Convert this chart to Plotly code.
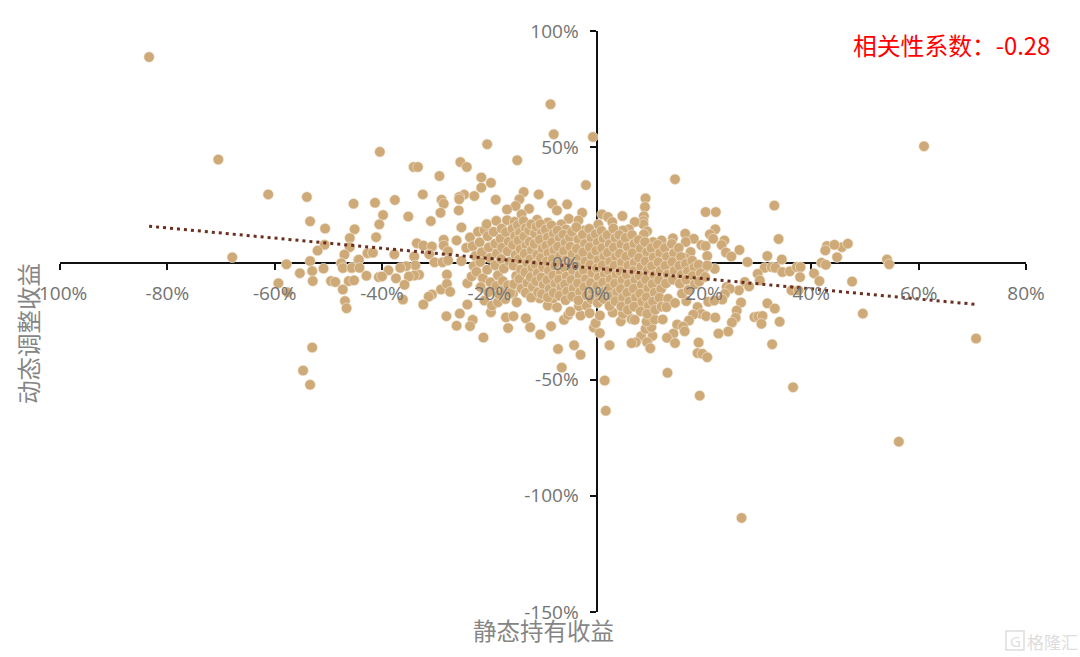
import plotly.graph_objects as go

# (static holding return %, dynamic adjusted return %)
outer_points = [
 (-83.4,88.8),(-70.5,44.7),(-67.9,2.6),(-61.2,29.7),(-54,28.6),(-45.3,25.7),(-53.4,18.1),(-50.6,15),(-45.1,14.7),
 (-46,10.9),(-50.7,8),(-46,7),(-52,5.5),(-47,3.8),(-57.8,-0.4),(-53.4,1),(-47.6,0.1),(-50.9,-2.2),(-53,-3.3),
 (-55.3,-4.2),(-45.7,-2),(-47.3,-2),(-44.4,1.6),(-52.9,-7.6),(-49.5,-7.6),(-48.7,-8),(-46.2,-7.6),(-45.2,-7.3),
 (-59.3,-8.5),(-57.6,-12.4),(-47.3,-11.2),(-46.9,-16.2),(-46.6,-19.3),(-53,-36.2),(-54.7,-46.1),(-53.4,-52.2),
 (-40.4,48),(-34.1,41.5),(-33.3,41.5),(-25.4,43.6),(-24.2,41.5),(-20.4,51.3),(-14.8,44.4),(-8,55.6),(-8.6,68.5),
 (-0.7,54.4),(-29.3,37.6),(-21.5,37),(-19.7,34.7),(-21.5,32.6),(-2,33.7),(-32.4,29.7),(-13.6,30.7),(-10.8,29.7),
 (-24.7,29.6),(-25.6,28.6),(-22.8,29),(-14.4,27.6),(-41.3,26.1),(-37.6,27.3),(-28.9,27.4),(-28.5,25.7),(-25.6,27.6),
 (-18.8,27.4),(-15.1,24.7),(-8.3,25.7),(-5.5,25.4),(-16.7,23.2),(-25.7,22.8),(-29.1,21.8),(-12.6,23.5),(-7.4,22.8),
 (-2.7,21.8),(-39.8,20.8),(-35.1,20.2),(-14,21.1),(-40.5,16.8),(-30.9,18.2),(-11.1,18.8),(-9.1,17.6),(-5.2,19.2),
 (-6.6,16.8),(-3.4,18.5),(-25.2,15.5),(-5.7,14.6),(-2.4,14.2),(-41.1,11.3),(-28.5,10.2),(-26.1,9.9),(-33.5,8.7),
 (-32.3,7.7),(-30.7,7.3),(-28.5,7.7),(-24.3,6.7),(-42.7,4.4),(-41.7,4.6),(-37.7,3.9),(-34,3),(-31.2,3.9),(-27.7,5.2),
 (-44.3,1.6),(-30.2,0.5),(-28.7,0.5),(-27.7,1.3),(-25.2,1),(-33.8,-0.9),(-35.5,-1.2),(-36.6,-1.9),(-38.8,-3),
 (-40.6,-5.9),(-40,-5.6),(-42.9,-5.3),(-45.6,-1.9),(-44.2,-1.9),(-33.1,-4.9),(-34,-5.2),(-35,-5.6),(-37.4,-6.4),
 (-27.9,-4.8),(-35.8,-9.2),(-29,-11.2),(-27.9,-8.8),(-27.3,-12.2),(-24.1,-8.5),(-23.3,-5.6),(-36.1,-15.5),
 (-30.7,-13.4),(-31.3,-14.3),(-32.3,-17.7),(-28,-22.7),(-25.5,-21.6),(-26.1,-26.8),(-24.1,-17.7),(-23.1,-24.3),
 (-23.6,-27),(-20.9,-16),(-19.7,-21),(-19.5,-18.1),(-18.4,-16.7),(-17,-15.3),(-15.6,-13.1),(-14.9,-16.7),
 (-16.9,-23.2),(-15.5,-22.7),(-13.2,-23.6),(-16.5,-27.8),(-12.4,-27.5),(-10.5,-30.6),(-8.5,-27),(-21.1,-31.9),
 (-7.2,-36.8),(-4.2,-35.2),(-3,-39.3),(-6.1,-24.3),(-5.3,-22.2),(-4.9,-20.7),(-3,-22.4),(-3.3,-18.4),(-1.9,-18.1),
 (-1.3,-21.4),(-0.2,-25.7),(-0.5,-27.6),(-10.6,-15),(-9.1,-18.1),(-7.4,-18.9),(-8.1,-15),(-6.5,-44.8),
 (14.6,36.2),(9.1,28),(9,24.3),(8.8,20.3),(8.7,18.2),(8.7,16.8),(4.8,20.4),(1,21.1),(2.1,20),(0.3,16.8),(2.9,17.8),
 (7.1,17.8),(20.3,22.1),(22.2,22.1),(33.1,24.9),(6,14.7),(4.9,14.2),(9.4,13.8),(8.8,12.5),(16.5,12.8),(22.1,14.7),
 (21.1,12.5),(21.7,10.6),(23.8,9.9),(18.1,10.6),(16.6,9.2),(14.2,10.8),(12.1,9.9),(10.5,9.2),(33.9,10.5),(23.3,7.9),
 (19.5,7.9),(20.3,7.5),(24.1,4.7),(26.6,5.8),(25.1,3),(17.5,4.9),(20.6,3.2),(16.4,2.4),(28.1,0.6),(31.8,3.2),
 (34.5,1.7),(42.9,7.5),(42.6,5.6),(45.7,7),(46.8,8.5),(44.8,2.7),(41.9,0.3),(42.7,-0.6),(31.3,-1.9),(32.6,-1.6),
 (33.3,-1.9),(30,-4.5),(34.6,-3.7),(36,-3.4),(37.3,-1.6),(38,-1.6),(40.5,-4.3),(37.9,-5.9),(30.4,-7.3),(27.6,-8),
 (28.4,-9.9),(36.3,-11.6),(37.6,-11.6),(26.5,-11.6),(22,-2.3),(20,-2.3),(24.2,-10.2),(24.8,-10.9),(23.9,-13.1),
 (23.4,-15.5),(20.8,-16.5),(21.9,-16),(26.9,-16.8),(26.1,-20.3),(31.8,-17.2),(33.2,-19.4),(18.8,-18.8),(16.7,-16.2),
 (19.5,-21.7),(20.4,-22.7),(18,-22),(22.1,-23.3),(17.2,-24.6),(25.9,-23.4),(25.2,-25.4),(29.4,-23.1),(30.1,-22.8),
 (30.9,-22.6),(30.7,-26),(34.1,-25.1),(24.5,-29.3),(22.7,-30.2),(15,-26.3),(16.1,-27.2),(16.4,-29.2),(14.3,-30.2),
 (13.1,-32),(14.6,-34.3),(19,-34),(18.8,-38.6),(19.7,-38.9),(20.6,-40.4),(32.7,-34.8),(10.4,-31.2),(8.3,-31.3),
 (7.3,-33.9),(6.5,-34.3),(9.4,-33.9),(10,-36.5),(2.4,-35.2),(13.2,-47.1),(1.5,-50.4),(36.6,-53.3),(0.6,-30),
 (-0.2,-25.7),(0.6,-22.4),(4.5,-24.9),(6.5,-23.9),(7.1,-24.3),(9.1,-28.2),(10.2,-27.4),(9.3,-25),(10.8,-24.1),
 (12.3,-24.1),(3,-21.1),(4.9,-21.7),(61,50.4),(70.7,-32.3),(56.3,-76.7),(27,-109.5),(19.2,-56.9),(1.7,-63.4),
 (49.6,-21.6),(47.6,-7.8),(54.1,1.7),(54.5,-0.4),(44.3,8),(41.5,-7.6),
]
core_points = [
 (-23.6,11.2),(-23.1,7.4),(-22.6,3.2),(-22.9,-1.2),(-22.4,-3.6),(-22.1,13.6),(-21.8,9.1),(-21.4,4.8),(-21.7,0.6),(-21.2,-6.4),(-21.6,-10.2),
 (-20.9,14.3),(-20.5,16.9),(-20.3,11.7),(-20.1,6.9),(-19.9,2.4),(-20.4,-2.7),(-19.8,-8.1),(-20.2,-12.4),(-19.2,13.6),(-18.7,18.3),(-18.9,8.5),
 (-18.6,4.3),(-18.9,-0.8),(-18.4,-5.1),(-18.7,-9.7),(-18.2,-13.3),(-17.7,15),(-17.9,10.6),(-17.6,6.8),(-17.8,1.9),(-17.3,-2.2),(-17.5,-7.6),(-17.1,-11.2),
 (-16.7,18.6),(-16.9,13.4),(-16.4,9.4),(-16.6,5.2),(-16.2,0.7),(-16.5,-9.4),(-16.1,-12.7),(-15.3,17.9),(-15.7,14.8),(-15.2,11.7),(-15.6,7.9),(-15.1,3.6),(-15.5,-0.9),(-15,-5.4),(-15.4,-8.9),
 (-14.7,16.4),(-14.3,13.2),(-14.6,9.8),(-14.2,6.1),(-14.5,1.8),(-14.1,-2.6),(-14.4,-6.7),(-14,-10.8),(-13.6,18.2),(-13.2,15.1),(-13.5,11.6),(-13.1,7.8),(-13.4,4.2),(-13,0.3),(-13.3,-3.8),(-12.9,-8.4),(-13.2,-12.6),
 (-12.6,14.2),(-12.2,16.8),(-12.5,9.3),(-12.1,5.7),(-12.4,1.7),(-12,-1.9),(-12.3,-5.9),(-11.9,-10.1),(-12.2,-14.7),(-11.5,12.9),(-11.2,15.8),(-11.6,8.4),(-11.1,3.8),(-11.4,-0.4),(-11,-4.2),(-11.3,-7.7),(-10.9,-12.4),
 (-10.5,16.9),(-10.2,13.1),(-10.6,10.2),(-10.1,6.4),(-10.4,2.3),(-10,-1.6),(-10.3,-6.1),(-9.9,-9.2),(-10.2,-13.2),(-9.5,14.6),(-9.1,11.2),(-9.4,7.6),(-9,4.4),(-9.3,0.9),(-8.9,-3.1),(-9.2,-7.2),(-8.8,-11),(-9.1,-14.6),
 (-8.4,16.3),(-8,12.8),(-8.3,9.1),(-7.9,5.7),(-8.2,1.8),(-7.8,-1.2),(-8.1,-5.2),(-7.7,-8.7),(-8,-12.7),(-7.3,14.1),(-6.9,10.8),(-7.2,7.2),(-6.8,3.2),(-7.1,-0.2),(-6.7,-3.9),(-7,-7),(-6.6,-10.4),(-6.9,-13.9),
 (-6.2,12.4),(-5.8,8.9),(-6.1,5.3),(-5.7,1.4),(-6,-1.8),(-5.6,-5.6),(-5.9,-9),(-5.5,-12.1),(-5.8,-15.8),(-5,11.1),(-4.6,13.6),(-4.9,7.2),(-4.5,3.9),(-4.8,0.2),(-4.4,-3.2),(-4.7,-7.1),(-4.3,-10.7),(-4.6,-14.2),
 (-3.8,15.6),(-3.4,10.3),(-3.7,6.3),(-3.3,2.3),(-3.6,-1.2),(-3.2,-5),(-3.5,-8.6),(-3.1,-12.3),(-3.4,-15.9),(-2.6,12.3),(-2.2,8.4),(-2.5,4.8),(-2.1,0.8),(-2.4,-2.9),(-2,-6.8),(-2.3,-10.2),(-1.9,-13.7),
 (-1.4,14.9),(-1,11),(-1.3,7),(-0.9,3.2),(-1.2,-0.6),(-0.8,-4.2),(-1.1,-8.4),(-0.7,-12),(-1,-15.4),(-0.2,12.6),(0.2,9),(-0.1,5.4),(0.3,1.4),(0,-2.1),(0.4,-6),(0.1,-9.8),(0.5,-13.5),(0.2,-17),
 (0.9,14),(1.3,10.6),(1,6.6),(1.4,3),(1.1,-0.8),(1.5,-4.6),(1.2,-8.2),(1.6,-11.8),(1.3,-15.3),(2,12.2),(2.4,8.3),(2.1,4.6),(2.5,0.7),(2.2,-3),(2.6,-6.8),(2.3,-10.6),(2.7,-14.1),(2.4,-18.3),
 (3.1,15),(3.5,10.9),(3.2,6.9),(3.6,2.9),(3.3,-1),(3.7,-4.8),(3.4,-8.7),(3.8,-12.4),(3.5,-16.2),(4.2,12.2),(4.6,8.2),(4.3,4.2),(4.7,0.3),(4.4,-3.4),(4.8,-7.2),(4.5,-11),(4.9,-14.8),(4.6,-18.5),
 (5.4,11),(5.8,7),(5.5,3),(5.9,-0.9),(5.6,-4.9),(6,-8.8),(5.7,-12.6),(6.1,-16.4),(5.8,-20),(6.6,12.2),(7,8.4),(6.7,4.4),(7.1,0.4),(6.8,-3.3),(7.2,-7),(6.9,-10.9),(7.3,-14.7),(7,-18.6),
 (7.8,10),(8.2,6.4),(7.9,2.4),(8.3,-1.5),(8,-5.3),(8.4,-9.1),(8.1,-13),(8.5,-16.6),(8.2,-20.6),(9,9.2),(9.4,4.8),(9.1,0.9),(9.5,-3),(9.2,-7),(9.6,-10.8),(9.3,-14.6),(9.7,-18.2),(9.4,-21.7),
 (10.2,6.6),(10.6,2.6),(10.3,-1.2),(10.7,-5),(10.4,-8.9),(10.8,-12.6),(10.5,-16.4),(10.9,-20),(11.4,8),(11.8,4.4),(11.5,0.5),(11.9,-3.2),(11.6,-7.2),(12,-11),(11.7,-14.8),(12.1,-18.6),
 (12.7,6.6),(13.1,2.8),(12.8,-1),(13.2,-4.8),(12.9,-8.6),(13.3,-15.2),(13,-18.8),(14,8.4),(14.4,4.4),(14.1,0.6),(14.5,-3.2),(14.2,-7),(14.6,-17),(15.3,6.6),(15.7,2.8),(15.4,-1),(15.8,-5),(15.5,-8.7),(15.9,-13),
 (16.6,-0.2),(17,-3.4),(16.7,-7),(17.1,-11.4),(17.8,1.2),(18.2,-1.8),(17.9,-5.4),(18.3,-9),(19,-0.6),(19.4,-4.2),(19.1,-7.8),(20.2,-5.8),(20.6,-0.9),
]

static_return = [p[0] for p in outer_points + core_points]
dynamic_return = [p[1] for p in outer_points + core_points]

trend_x = [-83.4, 70.9]
trend_y = [16.0, -17.7]

x_ticks = [-100, -80, -60, -40, -20, 0, 20, 40, 60, 80]
x_labels = ["-100%", "-80%", "-60%", "-40%", "-20%", "0%", "20%", "40%", "60%", "80%"]
y_ticks = [-150, -100, -50, 0, 50, 100]
y_labels = ["-150%", "-100%", "-50%", "0%", "50%", "100%"]

x_title = "静态持有收益"
y_title = "动态调整收益"
note = "相关性系数：-0.28"
watermark = "格隆汇"

GREY = "#858585"
TICK = dict(family="Open Sans, sans-serif", size=19, color="#737373")
CJK = "Noto Sans CJK SC"

fig = go.Figure()
fig.add_trace(go.Scatter(x=static_return, y=dynamic_return, mode="markers",
                         marker=dict(size=10.5, color="#CEAA78", line=dict(color="#F3E9DA", width=0.6)),
                         hoverinfo="skip", showlegend=False))
fig.add_trace(go.Scatter(x=trend_x, y=trend_y, mode="lines",
                         line=dict(color="#6B2F20", width=3, dash="3px,4px"),
                         hoverinfo="skip", showlegend=False))
# carrier for the label-only axes drawn above the markers
fig.add_trace(go.Scatter(x=[None], y=[None], xaxis="x2", yaxis="y2", hoverinfo="skip", showlegend=False))

fig.update_layout(
    width=1080, height=657, paper_bgcolor="white", plot_bgcolor="white",
    margin=dict(l=60, r=54, t=31, b=45), showlegend=False,
    xaxis=dict(range=[-100, 80], anchor="free", position=0.6, side="bottom", layer="below traces",
               tickvals=x_ticks, showticklabels=False, ticks="outside", ticklen=6, tickwidth=1.5,
               tickcolor="#111", showline=True, linecolor="#111", linewidth=1.5, showgrid=False, zeroline=False),
    yaxis=dict(range=[-150, 100], anchor="free", position=100/180, side="left", layer="below traces",
               tickvals=y_ticks, showticklabels=False, ticks="outside", ticklen=6, tickwidth=1.5,
               tickcolor="#111", showline=True, linecolor="#111", linewidth=1.5, showgrid=False, zeroline=False),
    xaxis2=dict(range=[-100, 80], overlaying="x", anchor="free", position=0.6, side="bottom", layer="above traces",
                tickvals=x_ticks, ticktext=x_labels, tickfont=TICK, ticks="", ticklabelstandoff=17,
                showline=False, showgrid=False, zeroline=False),
    yaxis2=dict(range=[-150, 100], overlaying="y", anchor="free", position=100/180, side="left", layer="above traces",
                tickvals=y_ticks, ticktext=y_labels, tickfont=TICK, ticks="", ticklabelstandoff=18,
                showline=False, showgrid=False, zeroline=False),
    annotations=[
        dict(text=x_title, xref="paper", yref="paper", x=(543-60)/966, y=(612-630)/581, xanchor="center", yanchor="middle",
             showarrow=False, font=dict(family=CJK, size=23.5, color=GREY)),
        dict(text=y_title, xref="paper", yref="paper", x=(28-60)/966, y=(612-334)/581, xanchor="center", yanchor="middle",
             textangle=-90, showarrow=False, font=dict(family=CJK, size=23.5, color=GREY)),
        dict(text=note, xref="paper", yref="paper", x=(951-60)/966, y=(612-45)/581, xanchor="center", yanchor="middle",
             showarrow=False, font=dict(family=CJK + ", Open Sans", size=23.8, color="#FF0000")),
        dict(text=watermark, xref="paper", yref="paper", x=(1052-60)/966, y=(612-641)/581, xanchor="center", yanchor="middle",
             showarrow=False, font=dict(family=CJK, size=17, color="#DDDDDD")),
        dict(text="G", xref="paper", yref="paper", x=(1015-60)/966, y=(612-641)/581, xanchor="center", yanchor="middle",
             showarrow=False, font=dict(family="Open Sans", size=15, color="#DDDDDD")),
    ],
    shapes=[dict(type="rect", xref="paper", yref="paper", x0=(1006-60)/966, x1=(1024-60)/966,
                 y0=(612-650)/581, y1=(612-631)/581, line=dict(color="#DDDDDD", width=1.5))],
)

fig.write_html("out.html", config={"displayModeBar": False},
               post_script="document.body.style.margin='0';document.body.style.overflow='hidden';")
